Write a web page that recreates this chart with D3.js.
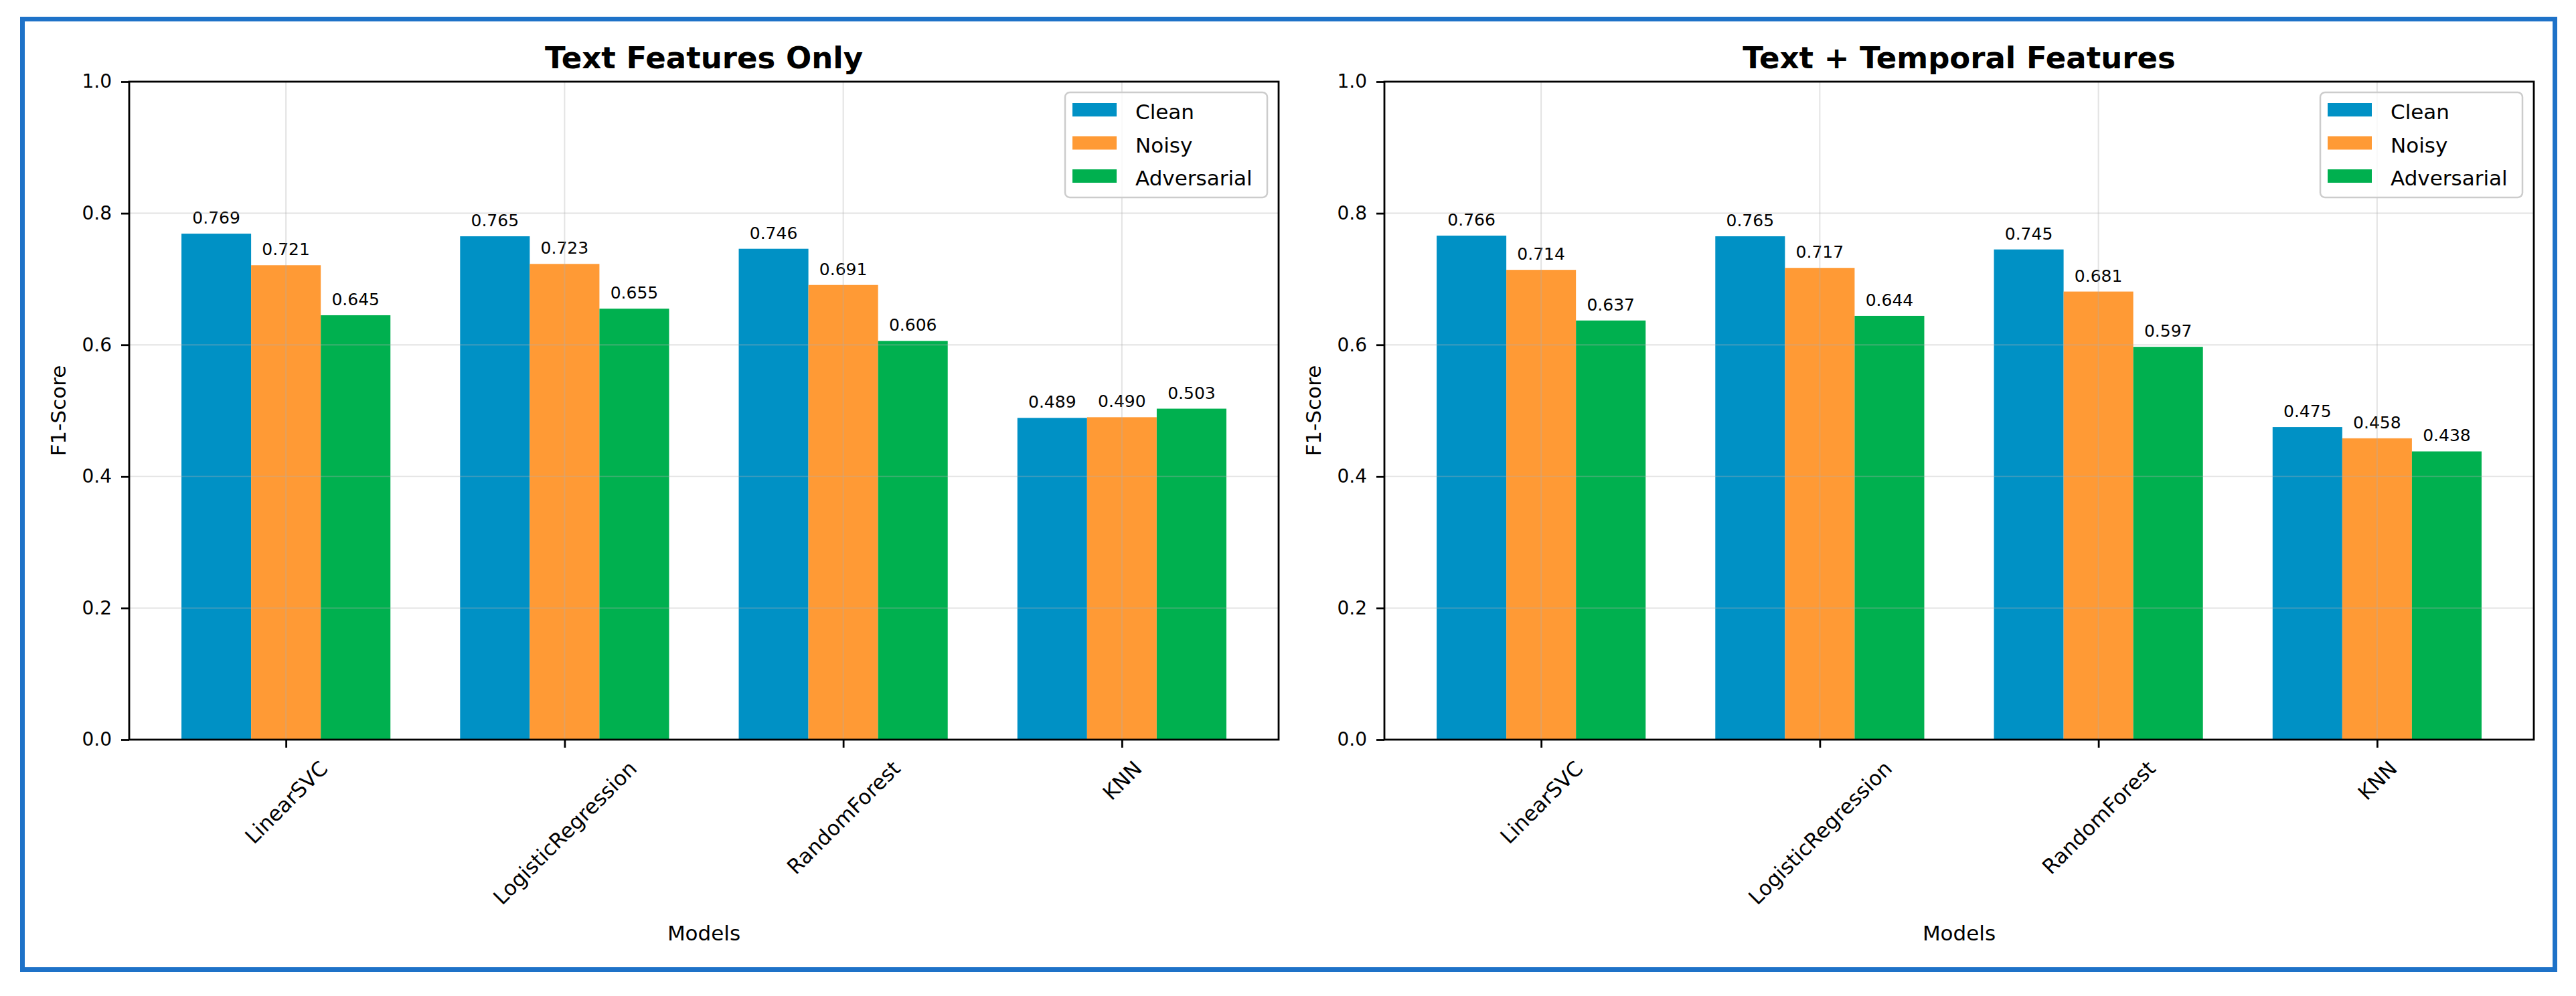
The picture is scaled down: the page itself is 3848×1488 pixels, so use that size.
<!DOCTYPE html>
<html>
<head>
<meta charset="utf-8">
<script src="https://cdn.jsdelivr.net/npm/d3@7"></script>
<style>
  body { margin: 0; background: #fff; }
  text { font-family: "DejaVu Sans", sans-serif; }
</style>
</head>
<body>
<div id="chart"></div>
<script>
var width = 3848,
    height = 1488;

// data
var models = ["LinearSVC", "LogisticRegression", "RandomForest", "KNN"];
var seriesNames = ["Clean", "Noisy", "Adversarial"];
var colors = ["#0091c5", "#ff9a35", "#00b04f"];

var textCleanVals = [0.769, 0.765, 0.746, 0.489];
var textNoisyVals = [0.721, 0.723, 0.691, 0.490];
var textAdvVals = [0.645, 0.655, 0.606, 0.503];

var tempCleanVals = [0.766, 0.765, 0.745, 0.475];
var tempNoisyVals = [0.714, 0.717, 0.681, 0.458];
var tempAdvVals = [0.637, 0.644, 0.597, 0.438];

var yTicks = [0.0, 0.2, 0.4, 0.6, 0.8, 1.0];

var panelW = 1717,
    panelH = 983,
    panelTop = 122,
    barW = 0.25;

var svg = d3.select("#chart")
    .append("svg")
    .attr("width", width)
    .attr("height", height);

svg.append("rect")
    .attr("width", width)
    .attr("height", height)
    .attr("fill", "#fff");

// blue frame round the figure
svg.append("rect")
    .attr("x", 33.5)
    .attr("y", 28.5)
    .attr("width", 3783)
    .attr("height", 1420)
    .attr("fill", "none")
    .attr("stroke", "#1e72c8")
    .attr("stroke-width", 7);

function drawPanel(left, title, series) {
    var g = svg.append("g")
        .attr("transform", "translate(" + left + "," + panelTop + ")");

    var x = d3.scaleLinear()
        .domain([-0.5625, 3.5625])   // bars span -0.375..3.375 plus 5% margin
        .range([0, panelW]);
    var y = d3.scaleLinear()
        .domain([0, 1])
        .range([panelH, 0]);

    // bars
    series.forEach(function (vals, s) {
        var off = (s - 1) * barW;
        g.selectAll("rect.bar" + s)
            .data(vals)
            .enter()
            .append("rect")
            .attr("class", "bar" + s)
            .attr("x", function (d, i) { return x(i + off - barW / 2); })
            .attr("width", function () { return x(barW) - x(0); })
            .attr("y", function (d) { return y(d); })
            .attr("height", function (d) { return y(0) - y(d); })
            .attr("fill", colors[s]);

        g.selectAll("text.val" + s)
            .data(vals)
            .enter()
            .append("text")
            .attr("class", "val" + s)
            .attr("x", function (d, i) { return x(i + off); })
            .attr("y", function (d) { return y(d) - 15; })
            .attr("text-anchor", "middle")
            .style("font-size", "25px")
            .text(function (d) { return d3.format(".3f")(d); });
    });

    // grid over the bars, faint
    g.selectAll("line.gy")
        .data(yTicks)
        .enter()
        .append("line")
        .attr("x1", 0).attr("x2", panelW)
        .attr("y1", function (d) { return y(d); })
        .attr("y2", function (d) { return y(d); })
        .attr("stroke", "#b0b0b0")
        .attr("stroke-opacity", 0.35)
        .attr("stroke-width", 2);
    g.selectAll("line.gx")
        .data(d3.range(models.length))
        .enter()
        .append("line")
        .attr("y1", 0).attr("y2", panelH)
        .attr("x1", function (d) { return x(d); })
        .attr("x2", function (d) { return x(d); })
        .attr("stroke", "#b0b0b0")
        .attr("stroke-opacity", 0.35)
        .attr("stroke-width", 2);

    // axes
    var yAxis = g.append("g")
        .call(d3.axisLeft(y).tickValues(yTicks).tickFormat(d3.format(".1f"))
            .tickSize(12).tickPadding(14));
    yAxis.select(".domain").remove();
    yAxis.selectAll("line").attr("stroke", "#000").attr("stroke-width", 2.8);
    yAxis.selectAll("text").style("font-size", "28px").attr("fill", "#000");

    var xAxis = g.append("g")
        .attr("transform", "translate(0," + panelH + ")")
        .call(d3.axisBottom(x).tickValues(d3.range(models.length))
            .tickFormat(function (d) { return models[d]; })
            .tickSize(12));
    xAxis.select(".domain").remove();
    xAxis.selectAll("line").attr("stroke", "#000").attr("stroke-width", 2.8);
    xAxis.selectAll("text")
        .style("font-size", "31px")
        .attr("fill", "#000")
        .attr("text-anchor", "middle")
        .attr("y", 0)
        .attr("dy", "0.35em")
        .attr("transform", function () {
            var w = this.getComputedTextLength(),
                side = (w + 31 * 0.95) / Math.SQRT2;
            return "translate(0," + (27 + side / 2) + ") rotate(-45)";
        });

    // spines
    g.append("rect")
        .attr("width", panelW)
        .attr("height", panelH)
        .attr("fill", "none")
        .attr("stroke", "#000")
        .attr("stroke-width", 2.8);

    g.append("text")
        .attr("x", panelW / 2)
        .attr("y", -20)
        .attr("text-anchor", "middle")
        .style("font-size", "45px")
        .style("font-weight", "bold")
        .text(title);

    g.append("text")
        .attr("x", panelW / 2)
        .attr("y", panelH + 300)
        .attr("text-anchor", "middle")
        .style("font-size", "31px")
        .text("Models");

    g.append("text")
        .attr("transform", "translate(-95," + (panelH / 2) + ") rotate(-90)")
        .attr("text-anchor", "middle")
        .style("font-size", "31px")
        .text("F1-Score");

    // legend
    var lg = g.append("g")
        .attr("transform", "translate(" + (panelW - 17 - 302) + ",16)");
    lg.append("rect")
        .attr("width", 302)
        .attr("height", 157)
        .attr("rx", 7)
        .attr("fill", "#fff")
        .attr("fill-opacity", 0.8)
        .attr("stroke", "#cccccc")
        .attr("stroke-width", 2.5);
    seriesNames.forEach(function (name, s) {
        lg.append("rect")
            .attr("x", 11)
            .attr("y", 16 + s * 49.5)
            .attr("width", 66)
            .attr("height", 20)
            .attr("fill", colors[s]);
        lg.append("text")
            .attr("x", 105)
            .attr("y", 16 + s * 49.5 + 24)
            .style("font-size", "31px")
            .text(name);
    });
}

drawPanel(193, "Text Features Only", [textCleanVals, textNoisyVals, textAdvVals]);
drawPanel(2068, "Text + Temporal Features", [tempCleanVals, tempNoisyVals, tempAdvVals]);
</script>
</body>
</html>
